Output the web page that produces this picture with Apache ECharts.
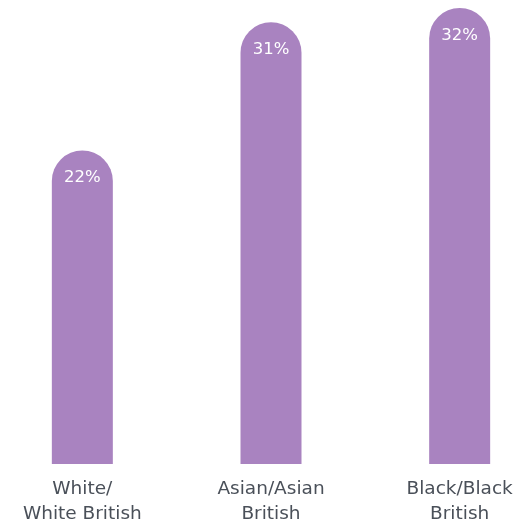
<!DOCTYPE html>
<html>
<head>
<meta charset="utf-8">
<script src="https://cdn.jsdelivr.net/npm/echarts@6/dist/echarts.min.js"></script>
<style>
  html, body { margin: 0; padding: 0; background: #ffffff; }
  #chart { width: 524px; height: 525px; }
</style>
</head>
<body>
<div id="chart"></div>
<script>
// Share of each ethnic group (percent)
const categories = ['White/\nWhite British', 'Asian/Asian\nBritish', 'Black/Black\nBritish'];
const values = [22, 31, 32];

const barColor = '#a983c0';
const textColor = '#4a5059';
const fontFamily = '"DejaVu Sans", sans-serif';

const chart = echarts.init(document.getElementById('chart'));
chart.setOption({
  animation: false,
  grid: {
    left: -12, right: -30, top: 8, bottom: 61,
    containLabel: false,
    outerBoundsMode: 'none'
  },
  xAxis: {
    type: 'category',
    data: categories,
    axisLine: { show: false },
    axisTick: { show: false },
    axisLabel: {
      color: textColor,
      fontSize: 18.5,
      fontWeight: 'normal',
      lineHeight: 25,
      fontFamily: fontFamily,
      margin: 13,
      interval: 0,
      hideOverlap: false
    }
  },
  yAxis: {
    type: 'value',
    min: 0,
    max: 32,
    show: false,
    splitLine: { show: false }
  },
  series: [{
    type: 'bar',
    data: values,
    barWidth: 61,
    itemStyle: { color: barColor, borderRadius: [30.5, 30.5, 0, 0] },
    label: {
      show: true,
      position: 'insideTop',
      distance: 19,
      color: '#ffffff',
      fontSize: 16.5,
      fontWeight: 'normal',
      fontFamily: fontFamily,
      formatter: p => p.value + '%'
    }
  }]
});
</script>
</body>
</html>
